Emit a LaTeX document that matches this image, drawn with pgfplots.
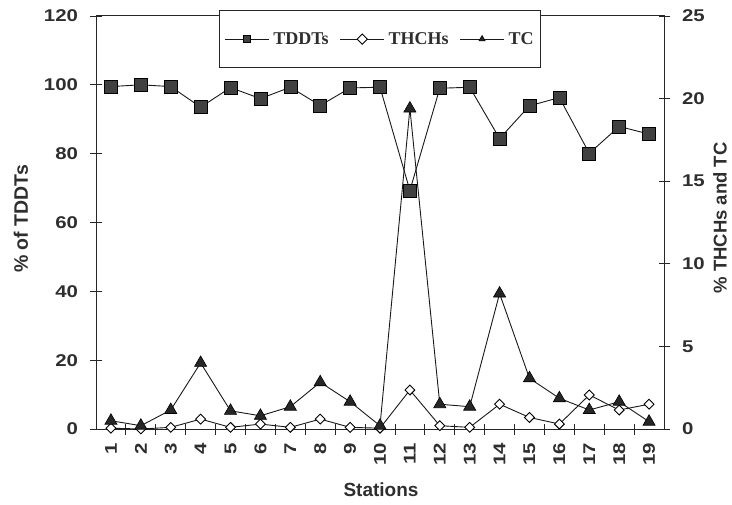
\documentclass[border=0pt]{standalone}
\usepackage{fontspec}
\setmainfont{Liberation Sans}
\newfontfamily\legfont{Liberation Serif}
\newfontfamily\tickfont[FakeStretch=1.2]{Liberation Sans}
\usepackage{pgfplots}
\pgfplotsset{compat=1.18}
\definecolor{txt}{HTML}{2E2E2E}
\definecolor{sqfill}{HTML}{404040}
\begin{document}
\begin{tikzpicture}
\pgfplotsset{
 base/.style={scale only axis, width=568pt, height=413pt, xmin=0.5, xmax=19.5,
   /pgf/number format/assume math mode=true,
   tick label style={font=\tickfont\bfseries\fontsize{17}{17}\selectfont, text=txt},
   axis line style={line width=1pt, draw=black!85},
   tick style={line width=0.9pt, draw=black!85},
   major tick length=11pt, minor tick length=11pt, tick align=center},
 tddt/.style={black!90, line width=0.9pt, mark=square*, mark size=6.5pt,
   mark options={fill=sqfill, draw=black, line width=0.6pt, solid}},
 thch/.style={black!90, line width=0.9pt, mark=square*, mark size=3.5pt,
   mark options={rotate=45, fill=white, draw=black, line width=0.9pt, solid}},
 tc/.style={black!90, line width=0.9pt, mark=triangle*, mark size=7pt,
   mark options={fill=black!85, draw=black, line width=0.6pt, solid}},
}
\begin{axis}[base, ymin=0, ymax=120, ytick={0,20,...,120}, ytick pos=left,
  y tick label style={xshift=-9pt},
  xtick={1,...,19}, xtick pos=bottom, major x tick style={draw=none},
  minor xtick={1.5,2.5,...,18.5},
  x tick label style={rotate=90, anchor=east},
  xticklabel shift=5pt]
\coordinate (bl) at (rel axis cs:0,0);
\coordinate (tr) at (rel axis cs:1,1);
\addplot[tddt] coordinates {
(1,99.5) (2,100) (3,99.5) (4,93.5) (5,99.2) (6,96) (7,99.3) (8,94) (9,99.1) (10,99.3)
(11,69.3) (12,99) (13,99.3) (14,84.4) (15,93.9) (16,96.3) (17,80.1) (18,87.9) (19,85.7)};
\end{axis}
\begin{axis}[base, ymin=0, ymax=25, ytick={0,5,...,25}, axis y line*=right, axis x line=none,
  y tick label style={xshift=9pt},
  legend columns=3,
  legend image code/.code={\draw[mark repeat=2,mark phase=2,#1] plot coordinates {(0pt,0pt) (22pt,0pt) (44pt,0pt)};},
  legend image post style={mark size=3.6pt},
  legend style={at={(0.5,1.0145)}, anchor=north, draw=black!85, line width=0.8pt,
    font=\legfont\bfseries\fontsize{18}{18}\selectfont, text=txt,
    inner xsep=5pt, inner ysep=20pt,
    /tikz/every odd column/.style={column sep=2pt},
    /tikz/every even column/.style={column sep=9pt}}]
\addlegendimage{tddt}
\addlegendentry{TDDTs}
\addplot[thch] coordinates {
(1,0.05) (2,0) (3,0.1) (4,0.6) (5,0.1) (6,0.3) (7,0.1) (8,0.6) (9,0.1) (10,0.05)
(11,2.36) (12,0.2) (13,0.1) (14,1.5) (15,0.7) (16,0.3) (17,2.06) (18,1.15) (19,1.5)};
\addlegendentry{THCHs}
\addplot[tc] coordinates {
(1,0.5) (2,0.2) (3,1.15) (4,4.0) (5,1.1) (6,0.8) (7,1.35) (8,2.83) (9,1.65) (10,0.2)
(11,19.4) (12,1.5) (13,1.35) (14,8.2) (15,3.07) (16,1.86) (17,1.15) (18,1.65) (19,0.44)};
\addlegendentry{TC}
\end{axis}
\node[rotate=90, font=\fontsize{19.5}{19.5}\selectfont\bfseries, text=txt] at ([xshift=-75pt,yshift=210pt]bl) {\% of TDDTs};
\node[rotate=90, font=\fontsize{18.5}{18.5}\selectfont\bfseries, text=txt] at ([xshift=56pt,yshift=-202pt]tr) {\% THCHs and TC};
\node[font=\fontsize{19}{19}\selectfont\bfseries, text=txt] at ([xshift=285pt,yshift=-61pt]bl) {Stations};
\pgfresetboundingbox
\path ([xshift=-96pt,yshift=-75pt]bl) rectangle ([xshift=68pt,yshift=16pt]tr);
\end{tikzpicture}
\end{document}
